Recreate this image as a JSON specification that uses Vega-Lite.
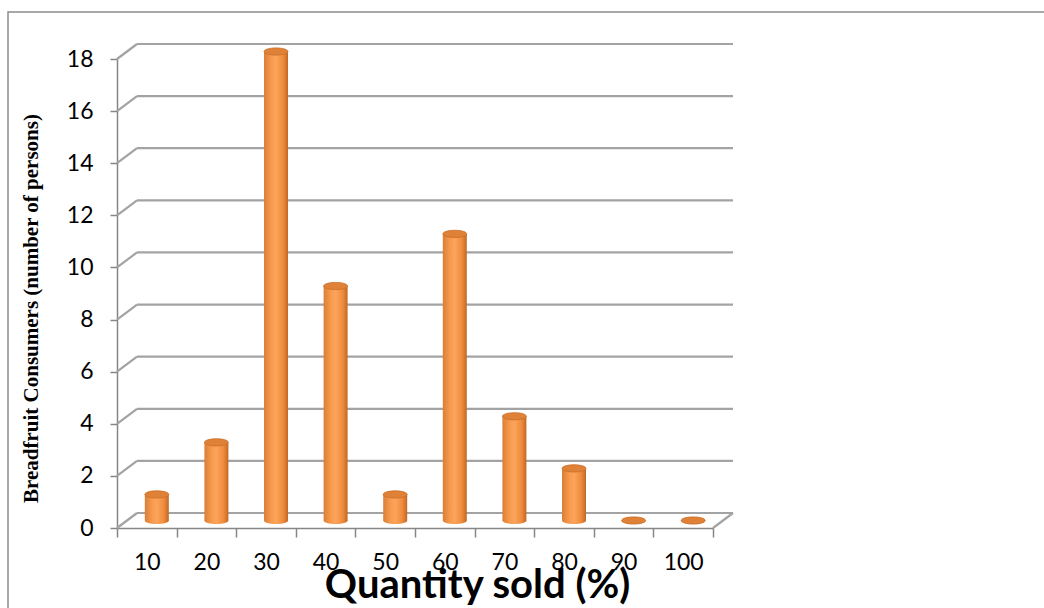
{
  "$schema": "https://vega.github.io/schema/vega-lite/v6.json",
  "width": 1040,
  "height": 600,
  "padding": {"left": 8, "top": 12, "right": 0, "bottom": 0},
  "background": "white",
  "config": {
    "view": {"stroke": "#8c8c8c", "strokeWidth": 1.5},
    "font": "Lato"
  },
  "datasets": {
    "counts": [
      {"q": 10, "n": 1},
      {"q": 20, "n": 3},
      {"q": 30, "n": 18},
      {"q": 40, "n": 9},
      {"q": 50, "n": 1},
      {"q": 60, "n": 11},
      {"q": 70, "n": 4},
      {"q": 80, "n": 2},
      {"q": 90, "n": 0},
      {"q": 100, "n": 0}
    ],
    "grid": [
      {"v": 0}, {"v": 2}, {"v": 4}, {"v": 6}, {"v": 8},
      {"v": 10}, {"v": 12}, {"v": 14}, {"v": 16}, {"v": 18}
    ]
  },
  "resolve": {"scale": {"x": "independent"}, "axis": {"x": "independent"}},
  "layer": [
    {
      "description": "back wall gridlines",
      "data": {"name": "grid"},
      "mark": {"type": "rule", "color": "#a3a3a3", "strokeWidth": 2.2, "xOffset": 20, "x2Offset": 20, "yOffset": -15},
      "encoding": {
        "x": {"datum": 0, "type": "quantitative", "scale": {"domain": [0, 1], "range": [109, 705]}, "axis": null},
        "x2": {"datum": 1},
        "y": {"field": "v", "type": "quantitative", "title": "Breadfruit Consumers (number of persons)"}
      }
    },
    {
      "description": "side wall diagonals",
      "data": {"name": "grid"},
      "mark": {"type": "rule", "color": "#a3a3a3", "strokeWidth": 2.2, "x2Offset": 20, "y2Offset": -15},
      "encoding": {
        "x": {"datum": 0, "type": "quantitative", "scale": {"domain": [0, 1], "range": [109, 705]}, "axis": null},
        "x2": {"datum": 0},
        "y": {"field": "v", "type": "quantitative", "title": "Breadfruit Consumers (number of persons)"},
        "y2": {"field": "v"}
      }
    },
    {
      "description": "floor right edge",
      "data": {"values": [{}]},
      "mark": {"type": "rule", "color": "#a3a3a3", "strokeWidth": 2.2, "x2Offset": 20, "y2Offset": -15},
      "encoding": {
        "x": {"datum": 1, "type": "quantitative", "scale": {"domain": [0, 1], "range": [109, 705]}, "axis": null},
        "x2": {"datum": 1},
        "y": {"datum": 0, "type": "quantitative", "title": "Breadfruit Consumers (number of persons)"},
        "y2": {"datum": 0}
      }
    },
    {
      "data": {"name": "counts"},
      "encoding": {
        "x": {
          "field": "q",
          "type": "ordinal",
          "scale": {"type": "band", "range": [109, 705], "paddingInner": 0, "paddingOuter": 0},
          "axis": {
            "orient": "bottom",
            "offset": -84,
            "tickBand": "extent",
            "labelAngle": 0,
            "domainColor": "#868686",
            "domainWidth": 1.5,
            "tickColor": "#868686",
            "tickWidth": 1.5,
            "tickSize": 9,
            "labelFont": "Lato",
            "labelFontSize": 23,
            "labelColor": "#000000",
            "labelPadding": 14,
            "title": "Quantity sold (%)",
            "titleFont": "Lato",
            "titleFontSize": 40,
            "titleFontWeight": "bold",
            "titleColor": "#000000",
            "titleX": 469,
            "titleY": 69,
            "titleAlign": "center",
            "titleBaseline": "alphabetic"
          }
        }
      },
      "layer": [
        {
          "description": "cylinder bottoms",
          "mark": {
            "type": "point",
            "shape": "M-1,0A1,0.3,0,1,1,1,0A1,0.3,0,1,1,-1,0Z",
            "size": 576,
            "filled": true,
            "opacity": 1,
            "xOffset": 10,
            "yOffset": -7.5,
            "color": {
              "gradient": "linear", "x1": 0, "y1": 0, "x2": 1, "y2": 0,
              "stops": [
                {"offset": 0, "color": "#d97f36"},
                {"offset": 0.3, "color": "#f79a4d"},
                {"offset": 0.5, "color": "#fba55b"},
                {"offset": 0.8, "color": "#ee8b3c"},
                {"offset": 1, "color": "#c26823"}
              ]
            }
          },
          "encoding": {"y": {"datum": 0, "type": "quantitative", "title": "Breadfruit Consumers (number of persons)"}}
        },
        {
          "description": "cylinder bodies",
          "mark": {
            "type": "bar",
            "width": 24,
            "xOffset": 10,
            "yOffset": -7.5,
            "y2Offset": -7.5,
            "color": {
              "gradient": "linear", "x1": 0, "y1": 0, "x2": 1, "y2": 0,
              "stops": [
                {"offset": 0, "color": "#d97f36"},
                {"offset": 0.3, "color": "#f79a4d"},
                {"offset": 0.5, "color": "#fba55b"},
                {"offset": 0.8, "color": "#ee8b3c"},
                {"offset": 1, "color": "#c26823"}
              ]
            }
          },
          "encoding": {
            "y": {
              "field": "n",
              "type": "quantitative",
              "title": "Breadfruit Consumers (number of persons)",
              "scale": {"domain": [0, 18], "range": [516, 47], "nice": false},
              "axis": {
                "values": [0, 2, 4, 6, 8, 10, 12, 14, 16, 18],
                "offset": -109,
                "grid": false,
                "domainColor": "#868686",
                "domainWidth": 1.5,
                "tickColor": "#868686",
                "tickWidth": 1.5,
                "tickSize": 7,
                "labelFont": "Lato",
                "labelFontSize": 23,
                "labelColor": "#000000",
                "labelPadding": 17,
                "titleFont": "Liberation Serif",
                "titleFontWeight": "bold",
                "titleFontSize": 21,
                "titleColor": "#000000",
                "titleAngle": -90,
                "titleX": -80,
                "titleY": 296,
                "titleAlign": "center",
                "titleBaseline": "alphabetic"
              }
            },
            "y2": {"datum": 0}
          }
        },
        {
          "description": "cylinder tops",
          "mark": {
            "type": "point",
            "shape": "M-1,0A1,0.3,0,1,1,1,0A1,0.3,0,1,1,-1,0Z",
            "size": 576,
            "filled": true,
            "opacity": 1,
            "color": "#df8137",
            "stroke": "#c96e2a",
            "strokeWidth": 0.8,
            "xOffset": 10,
            "yOffset": -7.5
          },
          "encoding": {"y": {"field": "n", "type": "quantitative", "title": "Breadfruit Consumers (number of persons)"}}
        }
      ]
    }
  ]
}
